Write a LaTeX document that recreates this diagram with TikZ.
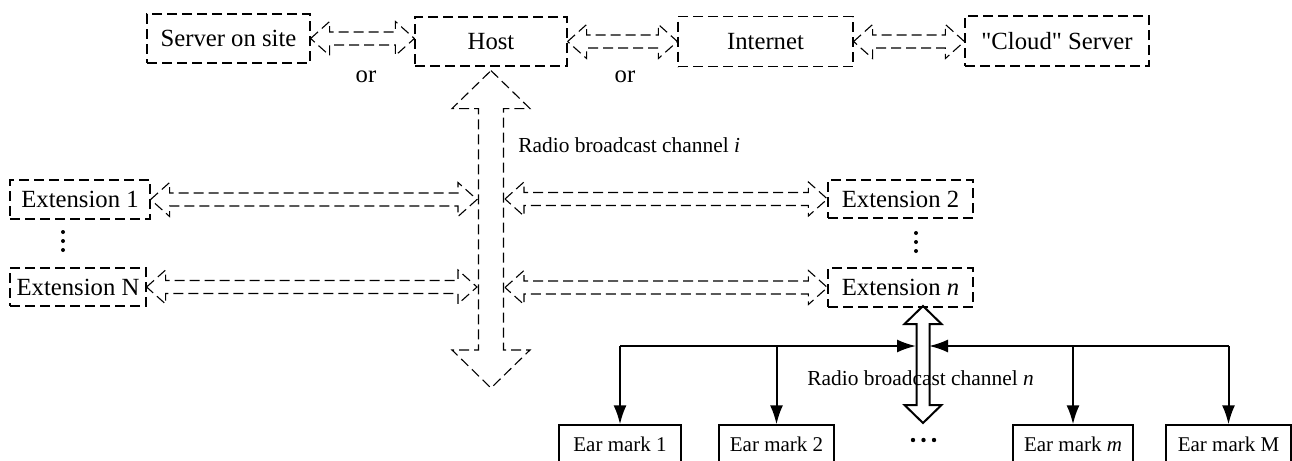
\documentclass[tikz,border=0pt]{standalone}
\usepackage{fontspec}
\setmainfont{Liberation Serif}
% same family without the TeX mapping, for straight quotation marks
\newfontfamily\plainquotes{Liberation Serif}
\usetikzlibrary{arrows.meta,calc}

\tikzset{
  bigtext/.style={font=\fontsize{12.35}{14}\selectfont},
  dbox/.style={draw, dash pattern=on 5pt off 2.5pt, line width=0.6pt, inner sep=0pt, bigtext},
  ebox/.style={draw, line width=0.65pt, inner sep=0pt, minimum height=19pt, font=\fontsize{10.5}{12}\selectfont},
  hollow/.style={draw, dash pattern=on 5pt off 2.5pt, line width=0.55pt, line join=miter},
  solidblock/.style={draw, line width=1pt, line join=miter},
  wire/.style={line width=1pt, -{Latex[length=9.5pt,width=6.5pt]}},
  lbl/.style={font=\fontsize{10.7}{12}\selectfont, inner sep=0pt},
  dot/.style={fill=black, draw=none},
}

% horizontal double-headed block arrow between two points (tips), at the height of the first
\newcommand\hblockarrow[3][]{%
  \draw[#1] let \p1=#2, \p2=#3 in
    (\x1,\y1) -- (\x1+9.5pt,\y1+8.5pt) -- (\x1+9.5pt,\y1+3.25pt) -- (\x2-9.5pt,\y1+3.25pt)
    -- (\x2-9.5pt,\y1+8.5pt) -- (\x2,\y1) -- (\x2-9.5pt,\y1-8.5pt) -- (\x2-9.5pt,\y1-3.25pt)
    -- (\x1+9.5pt,\y1-3.25pt) -- (\x1+9.5pt,\y1-8.5pt) -- cycle;}

% vertical double-headed block arrow: top tip, bottom tip, shaft half width, head half width, head length
\newcommand\vblockarrow[6][]{%
  \draw[#1] let \p1=#2, \p2=#3 in
    (\x1,\y1) -- (\x1+#5,\y1-#6) -- (\x1+#4,\y1-#6) -- (\x1+#4,\y2+#6) -- (\x1+#5,\y2+#6)
    -- (\x1,\y2) -- (\x1-#5,\y2+#6) -- (\x1-#4,\y2+#6) -- (\x1-#4,\y1-#6) -- (\x1-#5,\y1-#6) -- cycle;}

\begin{document}
\begin{tikzpicture}[x=0.5pt,y=-0.5pt]
\useasboundingbox (0,0) rectangle (1292,461);
\clip (0,0) rectangle (1292,461);

% top row
\node[dbox, minimum width=81.5pt, minimum height=24.5pt] (srv)   at (228.5,38.5) {Server on site};
\node[dbox, minimum width=76pt,   minimum height=24.5pt] (host)  at (491,41.5)   {Host};
\node[dbox, minimum width=87.5pt, minimum height=25pt]   (inet)  at (765.5,41.5) {Internet};
\node[dbox, minimum width=92pt,   minimum height=25pt]   (cloud) at (1057,41)    {{\plainquotes"}Cloud{\plainquotes"} Server};

\node[bigtext, anchor=base, inner sep=0pt] (or1) at (366,82) {or};
\node[bigtext, anchor=base, inner sep=0pt] (or2) at (625,82) {or};

% extensions
\node[dbox, minimum width=70pt,   minimum height=19.5pt] (ext1) at (80,199.5)   {Extension 1};
\node[dbox, minimum width=68pt,   minimum height=19pt]   (extN) at (78,287)     {Extension N};
\node[dbox, minimum width=72.5pt, minimum height=19pt]   (ext2) at (900.5,199)  {Extension 2};
\node[dbox, minimum width=72.5pt, minimum height=19.5pt] (extn) at (900.5,287.5) {Extension \textit{n}};

% elision dots between the extensions
\foreach \yy in {232,241,250} {
  \fill[dot] (63,\yy) circle[radius=1pt];
  \fill[dot] (916,\yy+1) circle[radius=1pt];
}

% ear marks
\node[ebox, minimum width=61pt]   (ear1) at (620,444)    {Ear mark 1};
\node[ebox, minimum width=57.5pt] (ear2) at (776.5,444)  {Ear mark 2};
\node[ebox, minimum width=60pt]   (earm) at (1073,444)   {Ear mark \textit{m}};
\node[ebox, minimum width=62.5pt] (earM) at (1228.5,444) {Ear mark M};
\foreach \xx in {913,923.5,934} {
  \fill[dot] (\xx,440) circle[radius=1.1pt];
}

% reference points of the channels
\coordinate (sL) at (477,0);
\coordinate (sR) at (505,0);
\coordinate (vtop) at ($(host.south)+(0,4)$);
\coordinate (vbot) at (491,388);
\coordinate (ntop) at (923,306);
\coordinate (nbot) at (923,423);
\coordinate (busL) at (916,346);
\coordinate (busR) at (929,346);

% links of the top row
\hblockarrow[hollow]{(srv.east)}{(host.west)}
\hblockarrow[hollow]{(host.east)}{(inet.west)}
\hblockarrow[hollow]{(inet.east)}{(cloud.west)}

% radio broadcast channel i
\vblockarrow[hollow]{(vtop)}{(vbot)}{6.25pt}{19.5pt}{19pt}
\hblockarrow[hollow]{(ext1.east)}{(ext1.east -| sL)}
\hblockarrow[hollow]{(extN.east)}{(extN.east -| sL)}
\hblockarrow[hollow]{(ext2.west -| sR)}{(ext2.west)}
\hblockarrow[hollow]{(extn.west -| sR)}{(extn.west)}
\node[lbl, anchor=base west] (chi) at (518,152) {Radio broadcast channel \textit{i}};

% radio broadcast channel n
\vblockarrow[solidblock]{(ntop)}{(nbot)}{3.25pt}{9.25pt}{9pt}
\draw[wire] (ear1.north |- busL) -- (busL);
\draw[wire] (earM.north |- busR) -- (busR);
\draw[wire] (ear1.north |- busL) -- (ear1.north);
\draw[wire] (ear2.north |- busL) -- (ear2.north);
\draw[wire] (earm.north |- busR) -- (earm.north);
\draw[wire] (earM.north |- busR) -- (earM.north);
\node[lbl, anchor=base west] (chn) at (807,385) {Radio broadcast channel \textit{n}};
\end{tikzpicture}
\end{document}
